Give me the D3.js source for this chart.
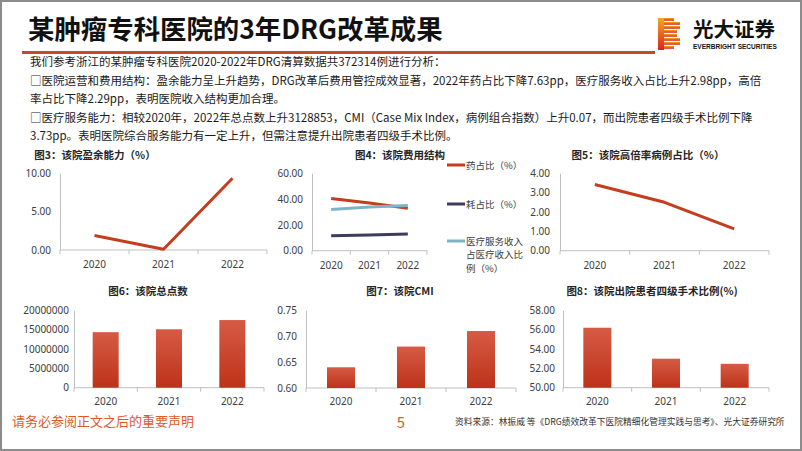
<!DOCTYPE html>
<html><head><meta charset="utf-8">
<script src="https://cdn.jsdelivr.net/npm/d3@7"></script>
<style>
html,body{margin:0;padding:0;background:#fff;}
svg{display:block;font-family:"Noto Sans CJK SC","Noto Sans",sans-serif;}
</style></head>
<body>
<svg id="c" width="802" height="451"></svg>
<script>
// ---- data ----
const years = ["2020", "2021", "2022"];
const surplus = [1.9, 0.1, 9.35];            // 图3 盈余能力 %
const drugShare = [40.5, 37.0, 32.9];        // 药占比 %
const consumableShare = [11.5, 12.2, 12.9];  // 耗占比 %
const serviceShare = [32.0, 33.8, 35.0];     // 医疗服务收入占医疗收入比例 %
const highRate = [3.42, 2.5, 1.13];          // 高倍率病例占比 %
const totalPoints = [14350000, 15100000, 17480000]; // 总点数
const cmi = [0.64, 0.68, 0.71];              // CMI
const level4 = [56.2, 53.0, 52.47];          // 四级手术比例 %
const ticks3 = [0, 5, 10];
const ticks4 = [0, 20, 40, 60];
const ticks5 = [0, 1, 2, 3, 4];
const ticks6 = [0, 5000000, 10000000, 15000000, 20000000];
const ticks7 = [0.60, 0.65, 0.70, 0.75];
const ticks8 = [50, 52, 54, 56, 58];

const title = "某肿瘤专科医院的3年DRG改革成果";
const paragraph = [
  "我们参考浙江的某肿瘤专科医院2020-2022年DRG清算数据共372314例进行分析：",
  "□医院运营和费用结构：盈余能力呈上升趋势，DRG改革后费用管控成效显著，2022年药占比下降7.63pp，医疗服务收入占比上升2.98pp，高倍",
  "率占比下降2.29pp，表明医院收入结构更加合理。",
  "□医疗服务能力：相较2020年，2022年总点数上升3128853，CMI（Case Mix Index，病例组合指数）上升0.07，而出院患者四级手术比例下降",
  "3.73pp。表明医院综合服务能力有一定上升，但需注意提升出院患者四级手术比例。"
];

const svg = d3.select("#c");
const RED = "#c53d1f", NAVY = "#3e3c5a", LBLUE = "#7db3c9";
const AX = "#bfbfbf", TXT = "#404040";

// gradient for bars
const defs = svg.append("defs");
const g = defs.append("linearGradient").attr("id","barG").attr("x1",0).attr("y1",0).attr("x2",0).attr("y2",1);
g.append("stop").attr("offset","0%").attr("stop-color","#d65b44");
g.append("stop").attr("offset","100%").attr("stop-color","#bd3219");
const lg = defs.append("linearGradient").attr("id","logoG").attr("x1",0).attr("y1",0).attr("x2",0).attr("y2",1);
lg.append("stop").attr("offset","0%").attr("stop-color","#f5a623");
lg.append("stop").attr("offset","100%").attr("stop-color","#d7261e");

function fitWidth(sel, target){
  const fs = +sel.attr("font-size");
  const w = sel.node().getComputedTextLength();
  sel.attr("font-size", fs*target/w);
}

// page frame
svg.append("rect").attr("x",1).attr("y",1).attr("width",800).attr("height",449)
  .attr("fill","none").attr("stroke","#8c8c8c").attr("stroke-width",2);

// title
const tt = svg.append("text").attr("x",28).attr("y",39).attr("font-size",23).attr("font-weight",700)
  .attr("fill","#111").text(title);
fitWidth(tt, 415);
svg.append("rect").attr("x",22).attr("y",51).attr("width",633).attr("height",3).attr("fill","#c8482c");

// logo
const logo = svg.append("g");
[0,1,2,3,4,5,6,7].forEach(i=>{
  const y = 18 + i*4;
  const w = (i===0||i===7) ? 16 : (i===3||i===4 ? 19 : 22);
  logo.append("rect").attr("x",658).attr("y",y).attr("width",w).attr("height",2.8).attr("fill","url(#logoG)");
});
logo.append("rect").attr("x",658).attr("y",18).attr("width",6).attr("height",32).attr("fill","url(#logoG)");
const lt = svg.append("text").attr("x",693).attr("y",36.5).attr("font-size",19).attr("font-weight",700).attr("fill","#111").text("光大证券");
fitWidth(lt, 82);
const ev = svg.append("text").attr("x",693).attr("y",48.5).attr("font-size",6).attr("font-weight",700)
  .attr("fill","#111").attr("font-family","Liberation Sans, Arial, sans-serif").text("EVERBRIGHT SECURITIES");
fitWidth(ev, 84);

// paragraph
const py = [66, 85, 103, 122, 140];
const ptexts = paragraph.map((t,i)=> svg.append("text").attr("x",30).attr("y",py[i]).attr("font-size",12)
  .attr("fill","#1a1a1a").text(t));
{
  const w = ptexts[1].node().getComputedTextLength();
  const fs = 12 * 732 / w;
  ptexts.forEach(t=>t.attr("font-size",fs));
}

// ---- generic frame ----
function frame(o){
  const x = d3.scaleBand().domain(years).range([o.x0, o.x1]);
  const y = d3.scaleLinear().domain(o.domain).range([o.yb, o.yt]);
  const gr = svg.append("g");
  gr.append("text").attr("x",o.tx).attr("y",o.ty).attr("text-anchor","middle")
    .attr("font-size",10.5).attr("font-weight",700).attr("fill","#262626").text(o.title);
  const ya = gr.append("g").attr("transform",`translate(${o.x0},0)`)
    .call(d3.axisLeft(y).tickValues(o.ticks).tickFormat(o.fmt).tickSize(0).tickPadding(o.pad||9).tickSizeOuter(0));
  ya.select(".domain").attr("stroke",AX);
  ya.selectAll("text").attr("fill",TXT).attr("font-size",10).attr("font-family","Noto Sans, sans-serif");
  gr.append("line").attr("x1",o.x0).attr("x2",o.x1).attr("y1",o.yb).attr("y2",o.yb).attr("stroke",AX);
  const bounds = years.map(d=>x(d)).concat([o.x1]);
  gr.selectAll(".bt").data(bounds).join("line").attr("x1",d=>d).attr("x2",d=>d)
    .attr("y1",o.yb).attr("y2",o.yb+4).attr("stroke",AX);
  gr.selectAll(".xl").data(years).join("text").attr("x",d=>x(d)+x.bandwidth()/2).attr("y",o.yb+(o.lx||18))
    .attr("text-anchor","middle").attr("font-size",10).attr("fill",TXT).attr("font-family","Noto Sans, sans-serif").text(d=>d);
  return {x,y,gr};
}
function lineChart(o){
  const {x,y,gr} = frame(o);
  const line = d3.line().x((d,i)=>x(years[i])+x.bandwidth()/2).y(d=>y(d));
  o.series.forEach(s=>{
    gr.append("path").datum(s.values).attr("d",line).attr("fill","none")
      .attr("stroke",s.color).attr("stroke-width",3).attr("stroke-linejoin","round");
  });
  return {x,y,gr};
}
function barChart(o){
  const {x,y,gr} = frame(o);
  gr.selectAll(".b").data(o.values).join("rect")
    .attr("x",(d,i)=>x(years[i])+x.bandwidth()/2-o.bw/2).attr("width",o.bw)
    .attr("y",d=>y(d)).attr("height",d=>o.yb-y(d)).attr("fill","url(#barG)");
}

const f2 = d3.format(".2f");
lineChart({x0:60,x1:267,yt:173.3,yb:250,domain:[0,10],ticks:ticks3,fmt:f2,tx:95,ty:159,
  title:"图3：该院盈余能力（%）",series:[{values:surplus,color:RED}]});

lineChart({x0:312,x1:427,yt:173.3,yb:250.7,domain:[0,60],ticks:ticks4,fmt:f2,tx:400,ty:159,
  title:"图4：该院费用结构",series:[
    {values:consumableShare,color:NAVY},
    {values:drugShare,color:RED},
    {values:serviceShare,color:LBLUE}]});
// legend
const leg = [
  {c:RED, lines:["药占比（%）"], y:165},
  {c:NAVY, lines:["耗占比（%）"], y:204},
  {c:LBLUE, lines:["医疗服务收入","占医疗收入比","例（%）"], y:241}
];
leg.forEach(l=>{
  svg.append("line").attr("x1",447).attr("x2",465).attr("y1",l.y).attr("y2",l.y).attr("stroke",l.c).attr("stroke-width",3);
  l.lines.forEach((t,i)=> svg.append("text").attr("x",466).attr("y",l.y+3.5+i*13.5).attr("font-size",9.5)
    .attr("fill",TXT).text(t));
});

lineChart({x0:560,x1:769,yt:173.3,yb:250.7,domain:[0,4],ticks:ticks5,fmt:f2,tx:648,ty:159,pad:10,
  title:"图5：该院高倍率病例占比（%）",series:[{values:highRate,color:RED}]});

barChart({x0:74,x1:264,yt:310.3,yb:387.7,domain:[0,20000000],ticks:ticks6,fmt:d3.format("d"),tx:148,ty:295,pad:5,lx:17,
  title:"图6：该院总点数",values:totalPoints,bw:26});
barChart({x0:306,x1:516,yt:310.3,yb:388,domain:[0.60,0.75],ticks:ticks7,fmt:f2,tx:400,ty:295,pad:9,lx:17,
  title:"图7：该院CMI",values:cmi,bw:28});
barChart({x0:563,x1:769,yt:310.3,yb:387.7,domain:[50,58],ticks:ticks8,fmt:f2,tx:652,ty:295,pad:8,lx:17,
  title:"图8：该院出院患者四级手术比例(%)",values:level4,bw:28});

// footer
svg.append("text").attr("x",12).attr("y",426).attr("font-size",13).attr("fill","#e0592a").text("请务必参阅正文之后的重要声明");
svg.append("text").attr("x",401).attr("y",428).attr("text-anchor","middle").attr("font-size",15).attr("fill","#e0592a").text("5");
const src = svg.append("text").attr("x",455).attr("y",425).attr("font-size",9.5).attr("fill","#333")
  .text("资料来源：林振威 等《DRG绩效改革下医院精细化管理实践与思考》、光大证券研究所");
fitWidth(src, 330);
</script>
</body></html>
